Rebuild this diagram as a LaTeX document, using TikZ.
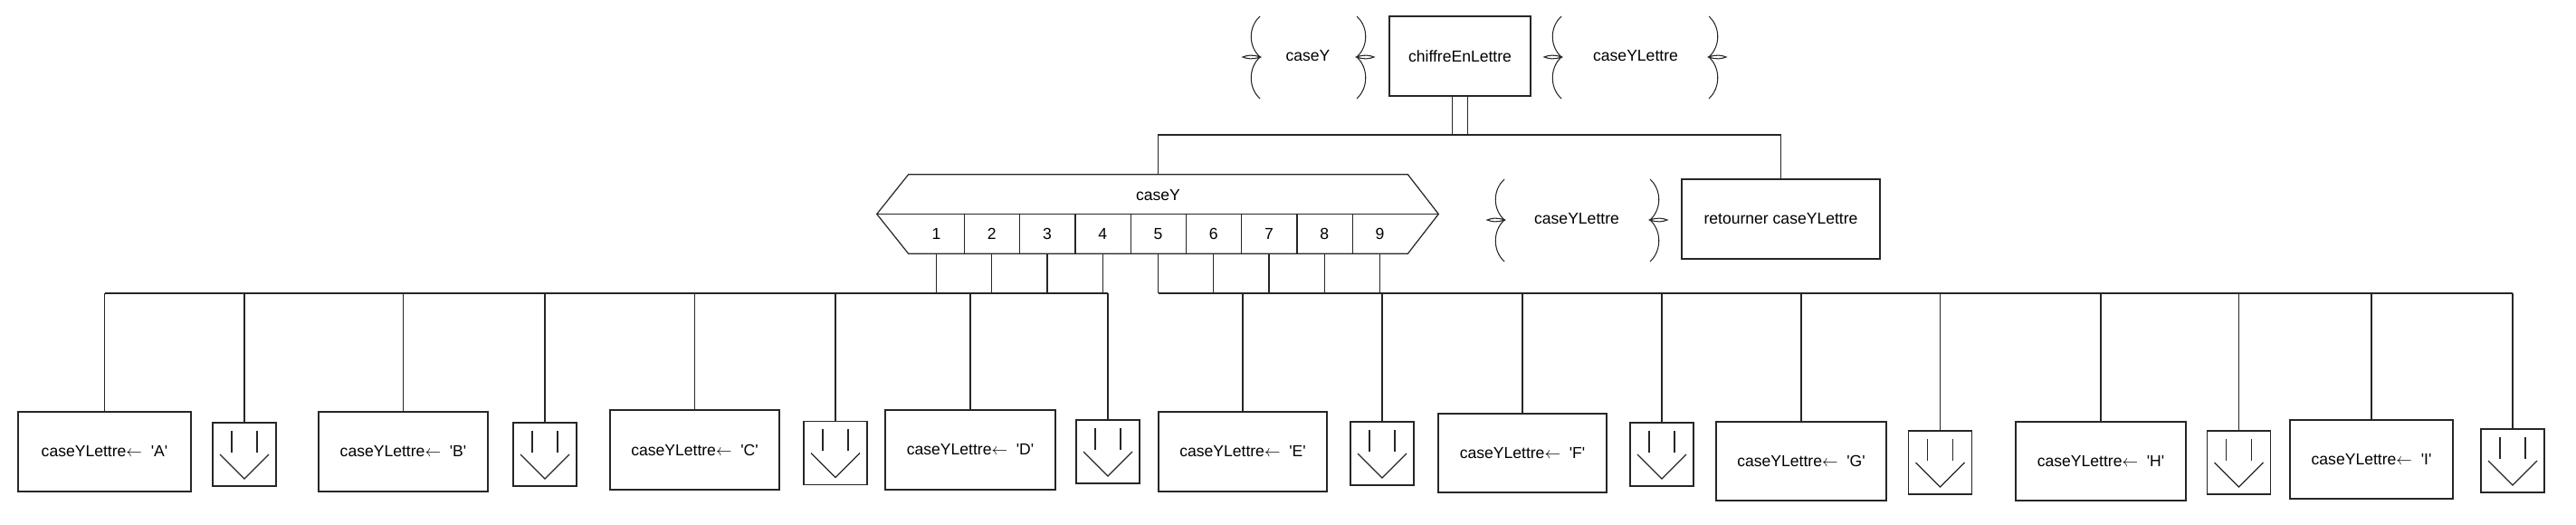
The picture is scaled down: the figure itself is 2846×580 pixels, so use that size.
\documentclass[tikz,border=0pt]{standalone}
\usepackage{fontspec}
\setmainfont{Liberation Sans}
\newcommand\txt{\fontsize{10}{12}\selectfont}
\newcommand\affect[1]{caseYLettre$\leftarrow$~~\textquotesingle #1\textquotesingle}
% brace drawn with its ends at x=#1, from y=#2 to #4, ear at #3
\newcommand\myLbrace[4]{\draw[brc] (#1,#2) .. controls (#1-13,#2+12) and (#1-13,#3-12) .. (#1,#3) .. controls (#1-8,#3-3) and (#1-14,#3-2) .. (#1-19,#3) .. controls (#1-14,#3+2) and (#1-8,#3+3) .. (#1,#3) .. controls (#1-13,#3+12) and (#1-13,#4-12) .. (#1,#4);}
\newcommand\myRbrace[4]{\draw[brc] (#1,#2) .. controls (#1+13,#2+12) and (#1+13,#3-12) .. (#1,#3) .. controls (#1+8,#3-3) and (#1+14,#3-2) .. (#1+19,#3) .. controls (#1+14,#3+2) and (#1+8,#3+3) .. (#1,#3) .. controls (#1+13,#3+12) and (#1+13,#4-12) .. (#1,#4);}
\newcommand\dnglyph[1]{%
  \draw[ln] ([shift={(-14,-26)}]#1.center) -- ([shift={(-14,-2)}]#1.center);
  \draw[ln] ([shift={(14,-26)}]#1.center) -- ([shift={(14,-2)}]#1.center);
  \draw[ln] ([shift={(-27,0)}]#1.center) -- ([shift={(0,27)}]#1.center) -- ([shift={(27,0)}]#1.center);}
\begin{document}
\begin{tikzpicture}[x=0.02cm,y=-0.02cm,
  ln/.style={line width=0.7pt,draw=black!85},
  brc/.style={line width=0.6pt,draw=black!85},
  box/.style={ln,draw,inner sep=0pt,font=\txt,minimum height=1.76cm},
  abox/.style={ln,draw,inner sep=0pt,minimum width=1.4cm,minimum height=1.4cm},
  cell/.style={inner sep=0pt,font=\txt,minimum width=1.2244cm,minimum height=0.86cm},
  lbl/.style={inner sep=0pt,font=\txt}]
\useasboundingbox (0,0) rectangle (2846,580);

% top level
\node[box,minimum width=3.12cm] (top) at (1613,62) {chiffreEnLettre};
\node[lbl] (inY) at (1445,62) {caseY};
\node[lbl] (outY) at (1807,62) {caseYLettre};
\myLbrace{1392}{18}{63}{109}
\myRbrace{1499}{18}{63}{109}
\myLbrace{1725}{18}{63}{109}
\myRbrace{1888}{18}{63}{109}

% selection node
\node[inner sep=0pt,minimum width=11.02cm,minimum height=1.74cm] (sel) at (1279.5,236.5) {};
\draw[ln] (sel.north west) -- (sel.north east) -- ([xshift=0.68cm]sel.east) -- (sel.south east)
  -- (sel.south west) -- ([xshift=-0.7cm]sel.west) -- cycle;
\draw[ln] ([xshift=-0.7cm]sel.west) -- ([xshift=0.68cm]sel.east);
\node[lbl] (selname) at (1279.5,216) {caseY};
\foreach \k in {1,...,9}{
  \node[cell] (c\k) at ({1004+61.22*(\k-0.5)},258.5) {\k};
}
\foreach \k in {1,...,8}{
  \draw[ln] (c\k.north east) -- (c\k.south east);
}

% return
\node[box,minimum width=4.38cm] (ret) at (1967.5,242) {retourner caseYLettre};
\node[lbl] (outY2) at (1742,242) {caseYLettre};
\myLbrace{1662}{198}{243}{289}
\myRbrace{1823}{198}{243}{289}

% top connectors
\coordinate (tl) at (0,149);
\draw[ln] (sel.north) -- (sel.north |- tl) -- (ret.north |- tl) -- (ret.north);
\draw[ln] ([xshift=-0.17cm]top.south) -- ([xshift=-0.17cm]top.south |- tl);
\draw[ln] ([xshift=0.17cm]top.south) -- ([xshift=0.17cm]top.south |- tl);

% bottom boxes
\node[box,minimum width=3.82cm] (A) at (115.5,499) {\affect{A}};
\node[box,minimum width=3.74cm] (B) at (445.5,499) {\affect{B}};
\node[box,minimum width=3.74cm] (C) at (767.5,497) {\affect{C}};
\node[box,minimum width=3.76cm] (D) at (1072,497) {\affect{D}};
\node[box,minimum width=3.72cm] (E) at (1373,499) {\affect{E}};
\node[box,minimum width=3.72cm,minimum height=1.74cm] (F) at (1682,500.5) {\affect{F}};
\node[box,minimum width=3.76cm,minimum height=1.74cm] (G) at (1990,509.5) {\affect{G}};
\node[box,minimum width=3.76cm,minimum height=1.74cm] (H) at (2321,509.5) {\affect{H}};
\node[box,minimum width=3.60cm,minimum height=1.74cm] (I) at (2620,507.5) {\affect{I}};

\node[abox] (a1) at (270,502) {};
\node[abox] (a2) at (602,502) {};
\node[abox] (a3) at (923,500.5) {};
\node[abox] (a4) at (1224,499) {};
\node[abox] (a5) at (1527,501) {};
\node[abox] (a6) at (1836,502) {};
\node[abox] (a7) at (2143.5,511) {};
\node[abox] (a8) at (2473.5,511) {};
\node[abox] (a9) at (2776,509) {};
\foreach \k in {1,...,9}{\dnglyph{a\k}}

% buses
\coordinate (bus) at (0,324);
\draw[ln] (A.north |- bus) -- (a4.north |- bus);
\draw[ln] (c5.south |- bus) -- (a9.north |- bus);
\foreach \k in {1,...,9}{
  \draw[ln] (c\k.south) -- (c\k.south |- bus);
  \draw[ln] (a\k.north) -- (a\k.north |- bus);
}
\foreach \n in {A,B,C,D,E,F,G,H,I}{
  \draw[ln] (\n.north) -- (\n.north |- bus);
}
\end{tikzpicture}
\end{document}
